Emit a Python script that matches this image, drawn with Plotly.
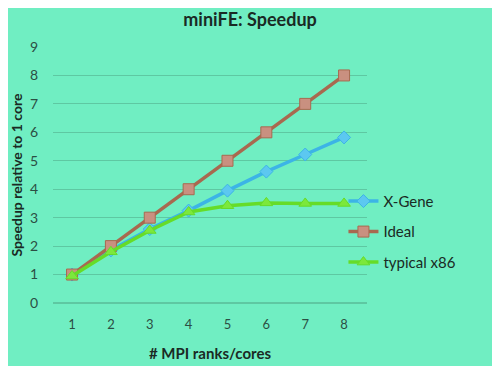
import plotly.graph_objects as go

cores = [1, 2, 3, 4, 5, 6, 7, 8]
xgene = [1.0, 1.85, 2.6, 3.25, 3.95, 4.62, 5.22, 5.82]
ideal = [1, 2, 3, 4, 5, 6, 7, 8]
x86 = [0.95, 1.8, 2.55, 3.2, 3.42, 3.52, 3.5, 3.5]

fig = go.Figure()
fig.add_trace(go.Scatter(x=cores, y=xgene, name="X-Gene", mode="lines+markers", legendgroup="a",
                         line=dict(color="#3cb4e6", width=3.5),
                         marker=dict(symbol="diamond", size=10, color="#5cc8f0",
                                     line=dict(color="#3cb4e6", width=1))))
fig.add_trace(go.Scatter(x=cores, y=ideal, name="Ideal", mode="lines+markers", legendgroup="b",
                         line=dict(color="#a8694f", width=3.5),
                         marker=dict(symbol="square", size=11, color="#c99080",
                                     line=dict(color="#a8694f", width=1))))
fig.add_trace(go.Scatter(x=cores, y=x86, name="typical x86", mode="lines+markers", legendgroup="c",
                         line=dict(color="#66dc28", width=3.5),
                         marker=dict(symbol="triangle-up", size=11, color="#7ce83c",
                                     line=dict(color="#66dc28", width=1))))

font = "Lato, Open Sans, sans-serif"
fig.update_layout(
    width=492, height=358,
    paper_bgcolor="#70eec2", plot_bgcolor="#70eec2",
    margin=dict(l=45, r=133, t=39, b=63, autoexpand=False),
    title=dict(text="<b>miniFE: Speedup</b>", x=0.492, xanchor="center", xref="container",
               y=0.966, yanchor="middle", font=dict(family=font, size=18, color="#1a2a24")),
    font=dict(family=font, color="#2c4e44"),
    legend=dict(x=0.925, xanchor="left", y=0.278, yanchor="middle",
                font=dict(family=font, size=15, color="#1a2a24"),
                bgcolor="rgba(0,0,0,0)", tracegroupgap=8, itemwidth=30),
    showlegend=True,
)
fig.update_xaxes(range=[0.51, 8.59], tickvals=cores, ticktext=[str(c) for c in cores],
                 showgrid=False, zeroline=False, showline=False, ticklabelstandoff=12,
                 automargin=False,
                 tickfont=dict(size=13, color="#2c4e44"),
                 title=dict(text="<b># MPI ranks/cores</b>", font=dict(size=15, color="#1a2a24"),
                            standoff=17))
fig.update_yaxes(range=[0, 9], dtick=1, showgrid=True, gridcolor="#5ec8a2", gridwidth=1,
                 zeroline=True, zerolinecolor="#5ec8a2", showline=False, automargin=False,
                 tickfont=dict(size=14, color="#2c4e44"), ticks="", ticklen=0, ticklabelstandoff=14,
                 title=dict(text="<b>Speedup relative to 1 core</b>", font=dict(size=14, color="#1a2a24"),
                            standoff=8))
fig.write_html("out.html")
